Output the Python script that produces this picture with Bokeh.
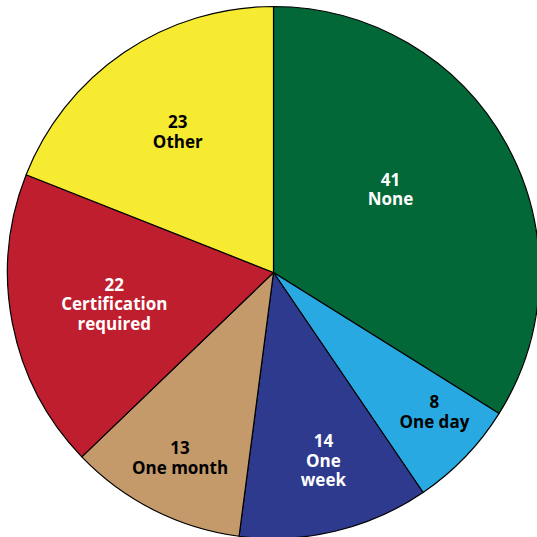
import math
from bokeh.plotting import figure
from bokeh.models import Range1d, ColumnDataSource
from bokeh.core.properties import value
from bokeh.embed import file_html
from bokeh.resources import INLINE

# Data
categories = ["None", "One day", "One week", "One month", "Certification required", "Other"]
values = [41, 8, 14, 13, 22, 23]
label_texts = ["41\nNone", "8\nOne day", "14\nOne\nweek", "13\nOne month", "22\nCertification\nrequired", "23\nOther"]

# Styles
colors = ["#036837", "#29A9E1", "#2D3A8E", "#C49A6A", "#BE1E2D", "#F6EB31"]
text_colors = ["white", "black", "white", "black", "white", "black"]
label_r = [0.54, 0.80, 0.73, 0.78, 0.61, 0.64]
label_dtheta = [-6.5, -3.0, -1.5, 0.0, 0.0, 0.0]

R = 266
W = H = 537
CX, CY = 273, 272  # pie centre in pixels from top-left

total = sum(values)
starts, ends, lx, ly = [], [], [], []
cum = 0
for v, rf, dt in zip(values, label_r, label_dtheta):
    a0 = cum / total * 2 * math.pi
    cum += v
    a1 = cum / total * 2 * math.pi
    starts.append(math.pi / 2 - a0)
    ends.append(math.pi / 2 - a1)
    mid = (a0 + a1) / 2 + math.radians(dt)
    lx.append(rf * R * math.sin(mid))
    ly.append(rf * R * math.cos(mid))

src = ColumnDataSource(dict(start=starts, end=ends, color=colors, cat=categories))
lsrc = ColumnDataSource(dict(x=lx, y=ly, text=label_texts, tc=text_colors))

p = figure(width=W, height=H, output_backend="svg", toolbar_location=None,
           x_range=Range1d(-CX, W - CX), y_range=Range1d(-(H - CY), CY),
           min_border=0)
p.axis.visible = False
p.grid.visible = False
p.outline_line_color = None
p.background_fill_color = "white"
p.border_fill_color = "white"

p.wedge(x=0, y=0, radius=R, start_angle="start", end_angle="end", direction="clock",
        fill_color="color", line_color="black", line_width=1.2, source=src)

p.text(x="x", y="y", text="text", text_color="tc", source=lsrc,
       text_font=value("Open Sans"), text_font_style="bold", text_font_size="17px",
       text_align="center", text_baseline="middle", text_line_height=0.86)

open("out.html", "w").write(file_html(p, INLINE))
